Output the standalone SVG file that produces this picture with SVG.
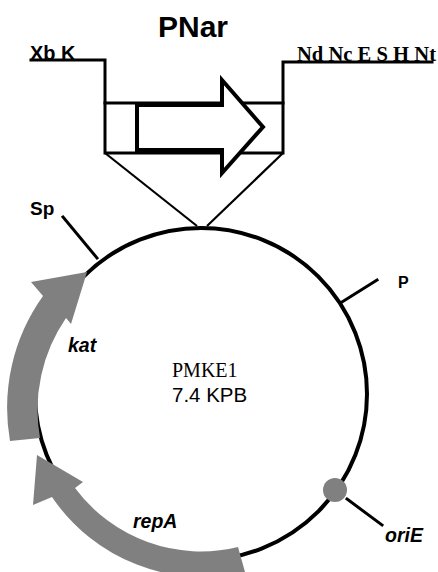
<svg xmlns="http://www.w3.org/2000/svg" width="438" height="572" viewBox="0 0 438 572">
<style>
.line{fill:none;stroke:#000;stroke-width:3;stroke-linecap:square}
.thin{fill:none;stroke:#000;stroke-width:2.2}
.gene{fill:#808080;stroke:none}
.bs{font-family:"Liberation Sans",Arial,sans-serif;font-weight:bold}
.bi{font-family:"Liberation Sans",Arial,sans-serif;font-weight:bold;font-style:italic;font-size:19.5px}
</style>
<rect width="438" height="572" fill="#fff"/>
<g id="title"><text class="bs" x="193" y="37" font-size="30" text-anchor="middle">PNar</text></g>
<g id="sites-left"><text class="bs" x="30" y="60" font-size="20">Xb K</text></g>
<g id="sites-right"><text x="297" y="61" font-family="Liberation Serif,Times New Roman,serif" font-weight="bold" font-size="20" textLength="139" lengthAdjust="spacingAndGlyphs">Nd Nc E S H Nt</text></g>
<g id="connectors">
<polyline class="line" points="31,60 105,60 105,103"/>
<polyline class="line" points="432,62 283,62 283,103"/>
<line class="thin" x1="105" y1="153" x2="197" y2="226"/>
<line class="thin" x1="283" y1="153" x2="207" y2="226"/>
<line class="line" x1="63" y1="217" x2="97" y2="258" stroke-width="2.6"/>
<line class="line" x1="342" y1="302" x2="377" y2="280" stroke-width="2.6"/>
<line class="line" x1="347" y1="499" x2="382" y2="525" stroke-width="2.6"/>
</g>
<g id="promoter">
<rect x="105" y="103" width="178" height="50" fill="#fff" stroke="#000" stroke-width="3"/>
<line x1="137" y1="103" x2="137" y2="153" stroke="#000" stroke-width="4"/>
<path d="M137,105 L222,105 L222,80 L263,127 L222,173 L222,150 L137,150 Z" fill="#fff" stroke="#000" stroke-width="4" stroke-linejoin="miter"/>
</g>
<g id="plasmid">
<circle cx="201" cy="394" r="166" fill="none" stroke="#000" stroke-width="4"/>
<text x="172" y="377" font-family="Liberation Serif,Times New Roman,serif" font-size="20">PMKE1</text>
<text x="172" y="402" font-family="Liberation Sans,Arial,sans-serif" font-size="20.5">7.4 KPB</text>
</g>
<g id="kat">
<path class="gene" d="M10,441 A192 192 0 0 1 43,296 L31,282 L87,272 L71,324 L66,318 A162 162 0 0 0 40,438 Z"/>
<text class="bi" x="68" y="352">kat</text>
</g>
<g id="repA">
<path class="gene" d="M245,572 A182 182 0 0 1 52,497 L33,505 L37,455 L83,482 L75,488 A157 157 0 0 0 238,547 Z"/>
<text class="bi" x="133" y="528">repA</text>
</g>
<g id="Sp"><text class="bs" x="30" y="215" font-size="19">Sp</text></g>
<g id="P"><text class="bs" x="398" y="288" font-size="16">P</text></g>
<g id="oriE">
<circle cx="335" cy="490" r="12" fill="#808080"/>
<text class="bi" x="385" y="542">oriE</text>
</g>
</svg>
